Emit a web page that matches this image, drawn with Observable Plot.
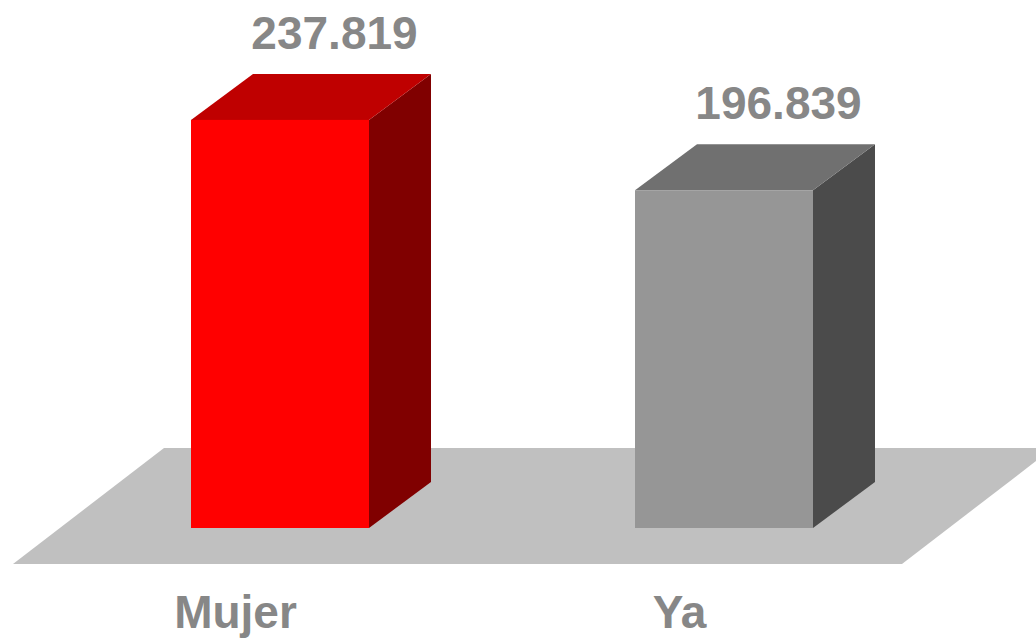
<!DOCTYPE html>
<html>
<head>
<meta charset="utf-8">
<script src="https://cdn.jsdelivr.net/npm/d3@7"></script>
<script src="https://cdn.jsdelivr.net/npm/@observablehq/plot@0.6"></script>
<style>
  html, body { margin: 0; padding: 0; background: #ffffff; }
  #chart { width: 1036px; height: 639px; overflow: hidden; }
  svg { overflow: visible; }
</style>
</head>
<body>
<div id="chart"></div>
<script>
// ---- data ----
const categories = ["Mujer", "Ya"];
const values = [237.819, 196.839];
const valueLabels = ["237.819", "196.839"];
const frontColors = ["#ff0000", "#969696"];
const topColors = ["#bf0000", "#707070"];
const sideColors = ["#800000", "#4b4b4b"];

const data = categories.map((c, i) => ({
  cat: c, value: values[i], label: valueLabels[i],
  front: frontColors[i], top: topColors[i], side: sideColors[i]
}));

// 3D depth offsets (pixels)
const DX = 62, DY = -46;
const FLOOR_DX = 151, FLOOR_DY = -116;
const textColor = "#878787";
const font = "'Liberation Sans', Arial, Helvetica, sans-serif";

function bandwidthOf(scales) {
  if (scales.x && typeof scales.x.bandwidth === "function") return scales.x.bandwidth();
  return scales.scales.x.bandwidth;
}

// floor (gray parallelogram) from the scales' extents
function floor(index, scales) {
  const {x, y} = scales;
  const r = scales.scales ? scales.scales.x.range : x.range();
  const yf = y(0) + 36;
  const xl = r[0] - 45, xr = r[1] - 44;
  return d3.create("svg:path")
    .attr("d", `M${xl},${yf}L${xr},${yf}L${xr + FLOOR_DX},${yf + FLOOR_DY}L${xl + FLOOR_DX},${yf + FLOOR_DY}Z`)
    .attr("fill", "#c0c0c0")
    .node();
}

// side and top faces of each bar
function faces(index, scales) {
  const {x, y} = scales;
  const bw = bandwidthOf(scales);
  const g = d3.create("svg:g");
  for (const d of data) {
    const x0 = x(d.cat), x1 = x0 + bw, yt = y(d.value), yb = y(0);
    g.append("path")
      .attr("d", `M${x1},${yb}L${x1},${yt}L${x1 + DX},${yt + DY}L${x1 + DX},${yb + DY}Z`)
      .attr("fill", d.side);
    g.append("path")
      .attr("d", `M${x0},${yt}L${x1},${yt}L${x1 + DX},${yt + DY}L${x0 + DX},${yt + DY}Z`)
      .attr("fill", d.top);
  }
  return g.node();
}

const chart = Plot.plot({
  width: 1036,
  height: 639,
  marginLeft: 58,
  marginRight: 90,
  marginTop: 99,
  marginBottom: 111,
  style: {background: "transparent", fontFamily: font},
  x: {domain: categories, paddingInner: 0.6, paddingOuter: 0.3, axis: null},
  y: {domain: [0, 250], axis: null},
  color: {type: "identity"},
  marks: [
    floor,
    faces,
    Plot.barY(data, {x: "cat", y: "value", fill: "front", inset: 0}),
    Plot.text(data, {
      x: "cat", y: "value", text: "label", dx: 54, dy: -86.5,
      fontSize: 46, fontWeight: "bold", fill: textColor
    }),
    Plot.text(data, {
      x: "cat", y: () => 0, text: "cat", dx: -45, dy: 84.5,
      fontSize: 46, fontWeight: "bold", fill: textColor
    })
  ]
});

document.getElementById("chart").appendChild(chart);
</script>
</body>
</html>
